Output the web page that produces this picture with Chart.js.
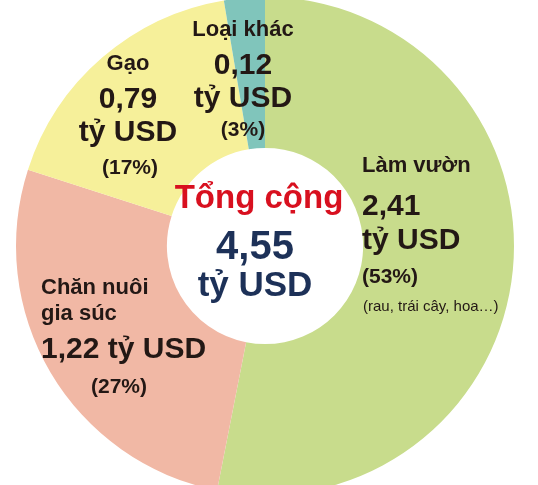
<!DOCTYPE html>
<html>
<head>
<meta charset="utf-8">
<script src="https://cdn.jsdelivr.net/npm/chart.js@4/dist/chart.umd.min.js"></script>
<style>
  html, body { margin: 0; padding: 0; background: #fff; }
  #wrap { width: 538px; height: 485px; position: relative; }
</style>
</head>
<body>
<div id="wrap"><canvas id="myChart" width="538" height="485"></canvas></div>
<script>
  // data
  var categories = ["Làm vườn", "Chăn nuôi gia súc", "Gạo", "Loại khác"];
  var values = [2.41, 1.22, 0.79, 0.12];
  var percents = [53, 27, 17, 3];
  var totalLabel = 4.55;
  var unit = "tỷ USD";
  var colors = ["#c8dc8c", "#f1b8a5", "#f6f09a", "#80c5bb"];

  function fmt(v) {
    return v.toFixed(2).replace(".", ",");
  }

  var ink = "#231815";
  var bold = function(px) { return "bold " + px + "px 'Liberation Sans', Arial, sans-serif"; };
  var regular = function(px) { return px + "px 'Liberation Sans', Arial, sans-serif"; };

  //text labels, offsets from the doughnut centre
  var labelPlugin = {
    id: "sliceLabels",
    afterDraw: function(chart) {
      var ctx = chart.ctx;
      var arc = chart.getDatasetMeta(0).data[0];
      var cx = arc.x, cy = arc.y;
      function put(text, dx, dy, font, color, align) {
        ctx.save();
        ctx.font = font;
        ctx.fillStyle = color || ink;
        ctx.textAlign = align || "center";
        ctx.textBaseline = "middle";
        ctx.fillText(text, cx + dx, cy + dy);
        ctx.restore();
      }
      // Làm vườn
      put(categories[0], 97, -80, bold(22), ink, "left");
      put(fmt(values[0]), 97, -39, bold(30), ink, "left");
      put(unit, 97, -5, bold(30), ink, "left");
      put("(" + percents[0] + "%)", 97, 31, bold(21), ink, "left");
      put("(rau, trái cây, hoa…)", 98, 61, regular(15), ink, "left");
      // Chăn nuôi gia súc
      put("Chăn nuôi", -224, 42, bold(22), ink, "left");
      put("gia súc", -224, 68, bold(22), ink, "left");
      put(fmt(values[1]) + " " + unit, -224, 104, bold(30), ink, "left");
      put("(" + percents[1] + "%)", -146, 141, bold(21));
      // Gạo
      put(categories[2], -137, -182, bold(22));
      put(fmt(values[2]), -137, -146, bold(30));
      put(unit, -137, -113, bold(30));
      put("(" + percents[2] + "%)", -135, -78, bold(21));
      // Loại khác
      put(categories[3], -22, -216, bold(22));
      put(fmt(values[3]), -22, -180, bold(30));
      put(unit, -22, -147, bold(30));
      put("(" + percents[3] + "%)", -22, -116, bold(21));
      // centre
      put("Tổng cộng", -6, -47, bold(33), "#d8101f");
      put(fmt(totalLabel), -10, 2, bold(40), "#1d3158");
      put(unit, -10, 40, bold(35), "#1d3158");
    }
  };

  var ctx = document.getElementById("myChart").getContext("2d");
  var chart = new Chart(ctx, {
    type: "doughnut",
    data: {
      labels: categories,
      datasets: [{
        data: values,
        backgroundColor: colors,
        borderWidth: 0,
        radius: 249,
        cutout: "39.4%"
      }]
    },
    options: {
      responsive: false,
      animation: false,
      devicePixelRatio: 1,
      events: [],
      layout: { padding: { top: 7, bottom: 0, left: 0, right: 8 } },
      plugins: {
        legend: { display: false },
        tooltip: { enabled: false }
      }
    },
    plugins: [labelPlugin]
  });
</script>
</body>
</html>
